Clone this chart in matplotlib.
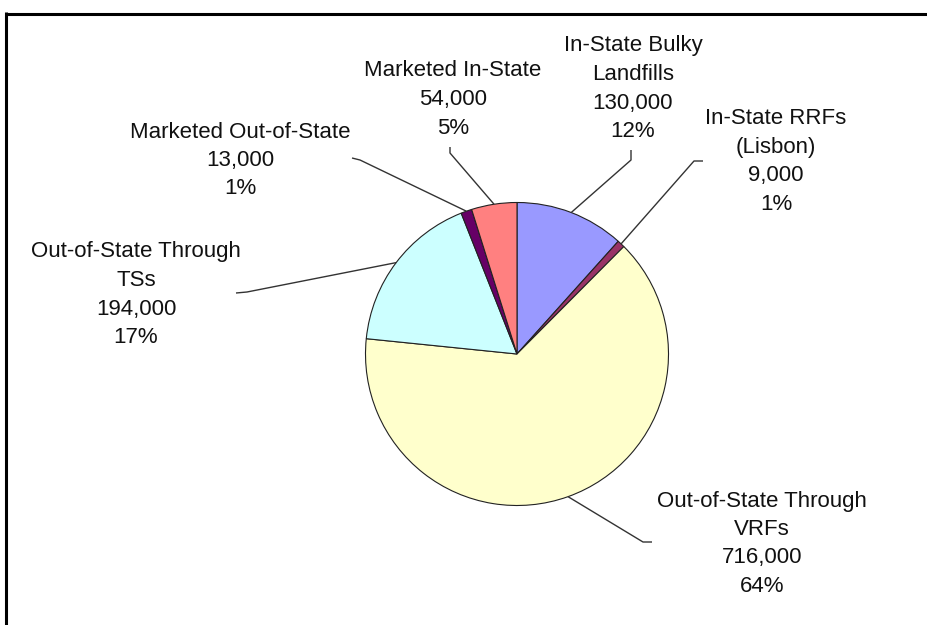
import numpy as np
import matplotlib
matplotlib.use("Agg")
import matplotlib.pyplot as plt

W, H = 928, 625

# data (tons), clockwise from 12 o'clock
names = ["In-State Bulky\nLandfills", "In-State RRFs\n(Lisbon)", "Out-of-State Through\nVRFs",
         "Out-of-State Through\nTSs", "Marketed Out-of-State", "Marketed In-State"]
tons = [130000, 9000, 716000, 194000, 13000, 54000]
colours = ["#9999FF", "#993366", "#FFFFCC", "#CCFFFF", "#660066", "#FF8080"]

# layout in pixels from the top-left corner
centre = (517, 354)
radius = 151.5
label_xy = [(633, 44), (776, 117), (762, 499), (136, 250), (240, 130), (453, 69)]
leader_pts = [[(631, 160), (631, 150)], [(694, 161), (703, 161)], [(643, 542), (652, 542)],
              [(247, 292), (236, 293)], [(360, 160), (352, 158)], [(450, 153), (450, 147)]]
line_step = 28.5

plt.rcParams['font.family'] = ['Liberation Sans', 'DejaVu Sans']

fig = plt.figure(figsize=(W / 100, H / 100), dpi=100)
ax = fig.add_axes([0, 0, 1, 1])

def up(y):
    return H - y

wedges, _ = ax.pie(tons, colors=colours, startangle=90, counterclock=False,
                   center=(centre[0], up(centre[1])), radius=radius,
                   wedgeprops=dict(edgecolor="#222222", linewidth=0.8))
ax.set_xlim(0, W)
ax.set_ylim(0, H)
ax.set_aspect("equal")
ax.axis("off")

total = sum(tons)
for w, name, v, (lx, ly), pts in zip(wedges, names, tons, label_xy, leader_pts):
    # leader line starts on the rim at the middle of the slice
    a = np.deg2rad((w.theta1 + w.theta2) / 2)
    sx = centre[0] + radius * np.cos(a)
    sy = centre[1] - radius * np.sin(a)
    xs = [sx] + [p[0] for p in pts]
    ys = [up(sy)] + [up(p[1]) for p in pts]
    ax.plot(xs, ys, color="#333333", lw=1.0, solid_capstyle="butt")

    lines = name.split("\n") + [f"{v:,}", f"{round(v / total * 100)}%"]
    for i, t in enumerate(lines):
        ax.text(lx, up(ly + i * line_step + 7.5), t, ha="center", va="baseline",
                fontsize=16, color="#111111")

# chart border (only top and left edges visible)
ax.plot([6, W], [up(13.5), up(13.5)], color="black", lw=2.2, solid_capstyle="butt")
ax.plot([6, 6], [up(12), 0], color="black", lw=2.2, solid_capstyle="butt")

fig.savefig("out.png", dpi=100)
